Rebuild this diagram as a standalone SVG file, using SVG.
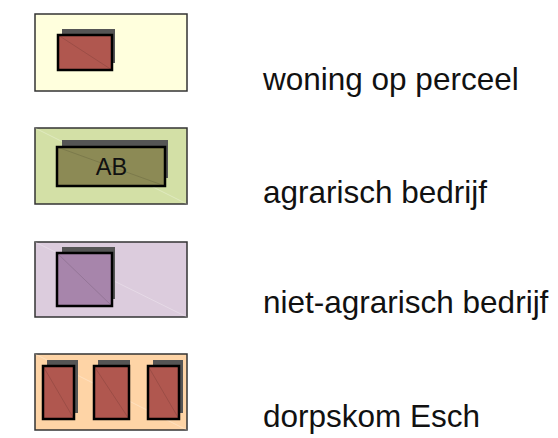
<svg xmlns="http://www.w3.org/2000/svg" width="558" height="438" viewBox="0 0 558 438">
<style>
.bg{stroke:#333;stroke-width:1.5}
.sh{fill:#555}
.fg{stroke:#000;stroke-width:2.5}
.red{fill:#B0574F}
.lbl{font-family:"Liberation Sans",Arial,sans-serif;font-size:31.5px;fill:#111}
.diag{stroke:#fff;stroke-opacity:0.35;stroke-width:0.8}
.diag2{stroke:#000;stroke-opacity:0.15;stroke-width:0.8}
</style>
<rect width="558" height="438" fill="#fff"/>
<g id="woning">
<rect class="bg" x="35" y="14" width="152" height="77" fill="#FFFFDD"/>
<rect class="sh" x="62" y="29" width="53" height="34"/>
<rect class="fg red" x="58" y="35" width="54" height="35"/>
<line class="diag2" x1="58" y1="35" x2="112" y2="70"/>
<text class="lbl" x="263" y="90">woning op perceel</text>
</g>
<g id="agrarisch">
<rect class="bg" x="35" y="128" width="152" height="76" fill="#D3E0A6"/>
<line class="diag" x1="35" y1="128" x2="187" y2="204"/>
<rect class="sh" x="62" y="140" width="106" height="38"/>
<rect class="fg" x="57" y="147" width="108" height="39" fill="#8C8A55"/>
<line class="diag2" x1="57" y1="147" x2="165" y2="186"/>
<text x="111.5" y="175" text-anchor="middle" font-family="Liberation Sans, Arial, sans-serif" font-size="23.5" fill="#111">AB</text>
<text class="lbl" x="263" y="203">agrarisch bedrijf</text>
</g>
<g id="niet-agrarisch">
<rect class="bg" x="35" y="242" width="152" height="75" fill="#DCCCDD"/>
<line class="diag" x1="35" y1="242" x2="187" y2="317"/>
<rect class="sh" x="62" y="247" width="53" height="52"/>
<rect class="fg" x="57" y="253" width="55" height="53" fill="#A785AB"/>
<line class="diag2" x1="57" y1="253" x2="112" y2="306"/>
<text class="lbl" x="263" y="313">niet-agrarisch bedrijf</text>
</g>
<g id="dorpskom">
<rect class="bg" x="35" y="354" width="152" height="76" fill="#FED4A6"/>
<line class="diag" x1="35" y1="354" x2="187" y2="430"/>
<rect class="sh" x="47" y="360" width="31" height="53"/>
<rect class="sh" x="98" y="360" width="32" height="53"/>
<rect class="sh" x="153" y="360" width="30" height="53"/>
<rect class="fg red" x="43" y="366" width="31" height="53"/>
<rect class="fg red" x="94" y="366" width="35" height="53"/>
<rect class="fg red" x="148" y="366" width="31" height="53"/>
<line class="diag2" x1="43" y1="366" x2="74" y2="419"/>
<line class="diag2" x1="94" y1="366" x2="129" y2="419"/>
<line class="diag2" x1="148" y1="366" x2="179" y2="419"/>
<text class="lbl" x="263" y="427">dorpskom Esch</text>
</g>
</svg>
